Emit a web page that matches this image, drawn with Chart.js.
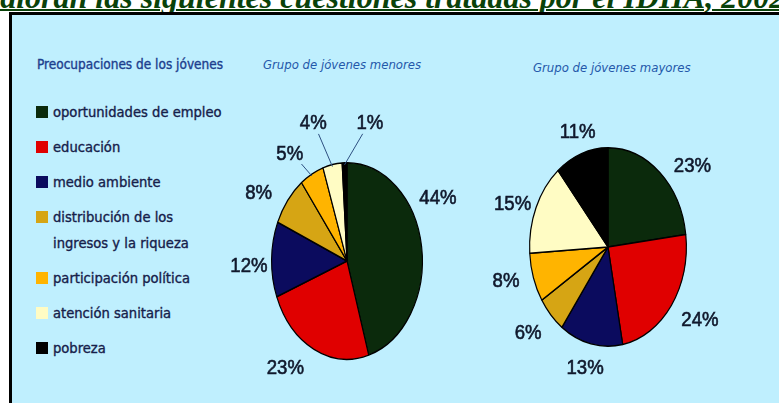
<!DOCTYPE html>
<html lang="es">
<head>
<meta charset="utf-8">
<title>Preocupaciones de los jóvenes</title>
<script src="https://cdn.jsdelivr.net/npm/chart.js@4.4.1/dist/chart.umd.min.js"></script>
<style>
  html, body { margin: 0; padding: 0; background: #fff; width: 779px; height: 403px; overflow: hidden; position: relative; }
  .titulo {
    position: absolute; left: -14px; top: -19px; white-space: nowrap;
    font: italic bold 32px 'Liberation Serif', 'Times New Roman', serif; line-height: 32px;
    color: #0a420a; text-decoration: underline; text-decoration-thickness: 2px;
  }
  .panel { position: absolute; left: 9px; top: 12px; width: 800px; height: 420px; border: 3px solid #000; background: #bfeffe; box-sizing: border-box; }
  .leyenda-titulo {
    position: absolute; left: 37px; top: 56px; line-height: 18px;
    font: 13.5px 'DejaVu Sans Condensed', 'DejaVu Sans', sans-serif; color: #1d3f8e; white-space: nowrap;
    -webkit-text-stroke: 0.35px #1d3f8e;
  }
  .leyenda { position: absolute; left: 36px; top: 99px; margin: 0; padding: 0; list-style: none; }
  .leyenda li { position: relative; padding-left: 17px; width: 175px; margin-bottom: 9px;
    font: 14.6px 'DejaVu Sans Condensed', 'DejaVu Sans', sans-serif; line-height: 26px; color: #16204a;
    -webkit-text-stroke: 0.35px #16204a; }
  .leyenda li span.sq { position: absolute; left: 0; top: 7px; width: 12px; height: 12px; }
  .grupo { position: absolute; font: italic 13px 'DejaVu Sans Condensed', 'DejaVu Sans', sans-serif; color: #2458aa; white-space: nowrap; line-height: 16px; }
  canvas { position: absolute; }
</style>
</head>
<body>
<div class="titulo">valoran las siguientes cuestiones tratadas por el IDHA, 2002</div>
<div class="panel"></div>
<div class="leyenda-titulo">Preocupaciones de los jóvenes</div>
<ul class="leyenda" id="leyenda"></ul>
<div class="grupo" style="left:263px; top:57px;">Grupo de jóvenes menores</div>
<div class="grupo" style="left:533px; top:60px;">Grupo de jóvenes mayores</div>
<canvas id="pieMenores" width="300" height="340" style="left:197px; top:91px;"></canvas>
<canvas id="pieMayores" width="260" height="320" style="left:478px; top:87px;"></canvas>

<script>
// datos
const categories = [
  'oportunidades de empleo',
  'educación',
  'medio ambiente',
  'distribución de los ingresos y la riqueza',
  'participación política',
  'atención sanitaria',
  'pobreza'
];
const menores = [44, 23, 12, 8, 5, 4, 1];
const mayores = [23, 24, 13, 6, 8, 15, 11];

// estilo
const sliceColors = ['#0b2a0c', '#e00000', '#0b0b5e', '#d6a514', '#ffb400', '#fffcc4', '#000000'];

// ajuste fino de las etiquetas (px) respecto a la posición calculada
const nudgeMenores = [[-10, -47], [-17, 3], [4, 6], [-12, 2], [-12, -7], [-15, -26], [26, -24]];
const nudgeMayores = [[15, 5], [7, 4], [0, 7], [-7, 6], [-7, -3], [1, 2], [5, -7]];

// leyenda html
const ul = document.getElementById('leyenda');
categories.forEach((cat, i) => {
  const li = document.createElement('li');
  const sq = document.createElement('span');
  sq.className = 'sq';
  sq.style.background = sliceColors[i];
  li.appendChild(sq);
  li.appendChild(document.createTextNode(cat));
  ul.appendChild(li);
});

// tarta eliptica: se escala el dibujo en horizontal
const ellipsePlugin = {
  id: 'ellipse',
  beforeDatasetsDraw(chart, args, opts) {
    const arc = chart.getDatasetMeta(0).data[0];
    const ctx = chart.ctx;
    ctx.save();
    ctx.translate(arc.x, arc.y);
    ctx.scale(opts.sx, 1);
    ctx.translate(-arc.x, -arc.y);
  },
  afterDatasetsDraw(chart) {
    chart.ctx.restore();
  }
};

// etiquetas de porcentaje fuera de la tarta
const labelPlugin = {
  id: 'pctLabels',
  afterDatasetsDraw(chart, args, opts) {
    const ctx = chart.ctx;
    const values = chart.data.datasets[0].data;
    const total = values.reduce((a, b) => a + b, 0);
    const narrow = 0.93;
    ctx.save();
    ctx.font = '20px "Liberation Sans", Arial, sans-serif';
    ctx.fillStyle = '#10182c';
    ctx.strokeStyle = '#10182c';
    ctx.textAlign = 'center';
    ctx.textBaseline = 'alphabetic';
    chart.getDatasetMeta(0).data.forEach((arc, i) => {
      const p = arc.getProps(['x', 'y', 'startAngle', 'endAngle', 'outerRadius']);
      const mid = (p.startAngle + p.endAngle) / 2;
      const c = Math.cos(mid), s = Math.sin(mid);
      const ex = p.x + p.outerRadius * opts.sx * c;
      const ey = p.y + p.outerRadius * s;
      const text = values[i] + '%';
      const w = ctx.measureText(text).width * narrow, h = 17;
      const n = opts.nudges[i] || [0, 0];
      const lx = ex + (opts.gap + w / 2) * c + n[0];
      const ly = ey + (opts.gap + h / 2) * s + n[1];
      ctx.save();
      ctx.translate(lx, ly + 7);
      ctx.scale(narrow, 1);
      ctx.lineWidth = 0.6;
      ctx.fillText(text, 0, 0);
      ctx.strokeText(text, 0, 0);
      ctx.restore();
      if (values[i] / total < 0.055) {
        const dx = ex - lx, dy = ey - ly;
        const t = Math.min((w / 2 + 2) / Math.abs(dx || 1e-6), (h / 2 + 3) / Math.abs(dy || 1e-6));
        ctx.beginPath();
        ctx.strokeStyle = '#2d4f80';
        ctx.lineWidth = 1;
        ctx.moveTo(lx + dx * t, ly + dy * t);
        ctx.lineTo(ex, ey - 2 * s);
        ctx.stroke();
        ctx.strokeStyle = '#10182c';
      }
    });
    ctx.restore();
  }
};

function makePie(id, values, padding, sx, nudges) {
  return new Chart(document.getElementById(id), {
    type: 'pie',
    data: {
      labels: categories,
      datasets: [{
        data: values,
        backgroundColor: sliceColors,
        borderColor: '#000',
        borderWidth: 1.5
      }]
    },
    options: {
      responsive: false,
      animation: false,
      layout: { padding: padding },
      plugins: {
        legend: { display: false },
        tooltip: { enabled: false },
        ellipse: { sx: sx },
        pctLabels: { sx: sx, gap: 8, nudges: nudges }
      }
    },
    plugins: [ellipsePlugin, labelPlugin]
  });
}

makePie('pieMenores', menores, { top: 71, bottom: 71, left: 50, right: 50 }, 76 / 99, nudgeMenores);
makePie('pieMayores', mayores, { top: 60, bottom: 60, left: 30, right: 30 }, 79 / 100, nudgeMayores);
</script>
</body>
</html>
